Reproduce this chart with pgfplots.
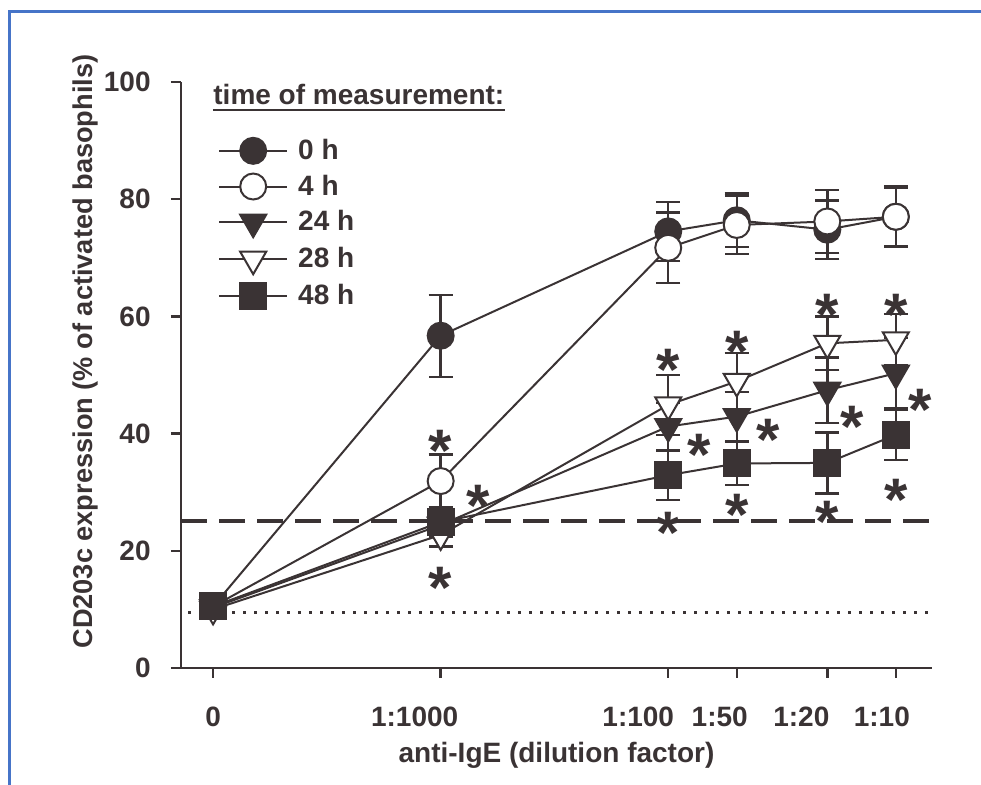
\documentclass[border=0pt]{standalone}
\usepackage{fontspec}
\setmainfont{Liberation Sans}
\usepackage{pgfplots}
\pgfplotsset{compat=1.18}
\definecolor{ink}{RGB}{58,51,52}
\definecolor{frameblue}{RGB}{70,116,200}

\newcommand{\lbl}{\bfseries\fontsize{14}{16}\selectfont}
\newcommand{\sig}[1]{\node[ink, anchor=base, yshift=-17pt, inner sep=0pt, font=\bfseries\fontsize{30}{30}\selectfont] at (axis cs:#1) {*};}

\begin{document}
\begin{tikzpicture}
\useasboundingbox (0,0) rectangle (490.5pt,392.5pt);
\draw[frameblue, line width=1.5pt] (4.5pt,-2pt) -- (4.5pt,386.5pt) -- (493pt,386.5pt);
\begin{axis}[
  at={(90.5pt,58.5pt)}, anchor=south west,
  scale only axis, width=375.5pt, height=293pt,
  xmin=-4.141, xmax=-0.841, ymin=0, ymax=100,
  axis x line=bottom, axis y line=left,
  axis line style={ink, line width=1.2pt, -},
  tick style={ink, line width=1.2pt},
  tick align=outside, major tick length=5pt,
  xtick={-4,-3,-2,-1.699,-1.301,-1},
  xticklabels={0,\hspace*{-26pt}1:1000,\hspace*{-30pt}1:100,\hspace*{-17pt}1:50,\hspace*{-26pt}1:20,\hspace*{-14pt}1:10},
  ytick={0,20,40,60,80,100},
  /pgf/number format/assume math mode=true,
  ticklabel style={font=\lbl, text=ink},
  xticklabel style={anchor=base, yshift=-24.5pt, inner sep=0pt},
  yticklabel style={anchor=east, xshift=-10pt, inner sep=0pt},
  xlabel={anti-IgE (dilution factor)},
  ylabel={CD203c expression (\% of activated basophils)},
  label style={text=ink},
  xlabel style={font=\lbl, at={(axis description cs:0.5,-0.162)}, anchor=base},
  ylabel style={font=\bfseries\fontsize{13.6}{16}\selectfont, at={(axis description cs:-0.1185,0.54)}, anchor=base},
  clip=false,
  every axis plot/.append style={ink, line width=1pt},
  error bars/error bar style={ink, line width=1.2pt},
  error bars/error mark options={ink, rotate=90, mark size=6pt, line width=1.2pt},
  legend image code/.code={\draw[mark repeat=2,mark phase=2,#1] plot coordinates {(0pt,0pt) (17pt,0pt) (34pt,0pt)};},
  legend style={at={(axis description cs:0.049,0.9065)}, anchor=north west, draw=none, fill=none,
    inner sep=0pt, row sep=4.2pt, column sep=4pt, font=\lbl, text=ink, nodes={inner sep=1pt}},
  legend cell align=left,
]
% reference lines
\addplot[forget plot, ink, line width=2pt, dash pattern=on 13pt off 6pt] coordinates {(-4.141,25) (-0.841,25)};
\addplot[forget plot, ink, line width=1.3pt, dash pattern=on 1.3pt off 4.2pt] coordinates {(-4.11,9.5) (-0.841,9.5)};

% 0 h
\addplot[mark=*, mark size=6.5pt, mark options={solid, fill=ink, draw=ink, line width=1pt},
  error bars/.cd, y dir=both, y explicit] coordinates {
  (-4,10.5) +- (0,1)
  (-3,56.7) +- (0,7)
  (-2,74.5) +- (0,5)
  (-1.699,76.4) +- (0,4.6)
  (-1.301,74.8) +- (0,5)
  (-1,77.0) +- (0,5)
};
% 4 h
\addplot[mark=*, mark size=6.5pt, mark options={solid, fill=white, draw=ink, line width=1pt},
  error bars/.cd, y dir=both, y explicit] coordinates {
  (-4,10.5) +- (0,1)
  (-3,31.9) +- (0,4.5)
  (-2,71.7) +- (0,6)
  (-1.699,75.6) +- (0,5)
  (-1.301,76.2) +- (0,5.4)
  (-1,77.0) +- (0,5.2)
};
% 24 h
\addplot[mark=triangle*, mark size=7.5pt, mark options={solid, rotate=180, fill=ink, draw=ink, line width=1pt},
  error bars/.cd, y dir=both, y explicit] coordinates {
  (-4,10.3) +- (0,1)
  (-3,24.4) +- (0,2)
  (-2,41.2) +- (0,4)
  (-1.699,42.9) +- (0,4.2)
  (-1.301,47.4) +- (0,5.6)
  (-1,50.3) +- (0,6)
};
% 28 h
\addplot[mark=triangle*, mark size=7.5pt, mark options={solid, rotate=180, fill=white, draw=ink, line width=1pt},
  error bars/.cd, y dir=both, y explicit] coordinates {
  (-4,10.0) +- (0,1)
  (-3,22.7) +- (0,2)
  (-2,44.9) +- (0,5.1)
  (-1.699,48.9) +- (0,4.9)
  (-1.301,55.4) +- (0,4.6)
  (-1,56.0) +- (0,4.4)
};
% 48 h
\addplot[mark=square*, mark size=6.5pt, mark options={solid, fill=ink, draw=ink, line width=1pt},
  error bars/.cd, y dir=both, y explicit] coordinates {
  (-4,10.5) +- (0,1)
  (-3,24.9) +- (0,2.5)
  (-2,32.9) +- (0,4.2)
  (-1.699,34.9) +- (0,3.7)
  (-1.301,35.0) +- (0,5.2)
  (-1,39.8) +- (0,4.3)
};
\legend{0 h, 4 h, 24 h, 28 h, 48 h}

% significance marks
\sig{-3,39.4} \sig{-2.835,30.0} \sig{-3,15.9}
\sig{-2,53.1} \sig{-1.863,38.6} \sig{-2,25.3}
\sig{-1.699,56.3} \sig{-1.559,41.2} \sig{-1.699,28.4}
\sig{-1.301,62.5} \sig{-1.192,43.5} \sig{-1.301,27.3}
\sig{-1,62.5} \sig{-0.892,46.3} \sig{-1,30.9}

\node[anchor=base west, inner sep=0pt, font=\lbl, text=ink] (ttl) at (axis description cs:0.0426,0.961) {time of measurement:};
\end{axis}
\draw[ink, line width=1.4pt] ([yshift=-2.6pt]ttl.base west) -- ([yshift=-2.6pt]ttl.base east);
\end{tikzpicture}
\end{document}
